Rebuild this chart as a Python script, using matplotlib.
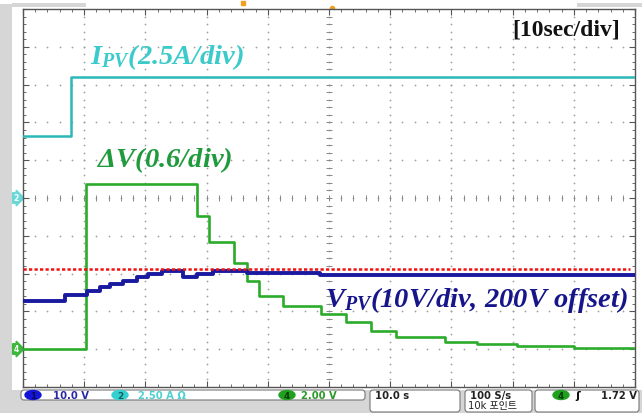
import numpy as np
import matplotlib.pyplot as plt
from matplotlib.patches import FancyBboxPatch, Rectangle, Ellipse

# ---- fonts for the bold italic serif labels ----
plt.rcParams['mathtext.fontset'] = 'custom'
plt.rcParams['mathtext.rm'] = 'Liberation Serif:bold:italic'
plt.rcParams['mathtext.it'] = 'Liberation Serif:bold:italic'
plt.rcParams['mathtext.bf'] = 'Liberation Serif:bold:italic'

# ---- data (time in s, level in divisions from bottom of screen) ----
ipv_t = [0, 6.7, 7.8, 100]
ipv_v = [6.64, 6.64, 8.20, 8.20]

dv_t = [0, 10.3, 28.4, 30.4, 34.5, 36.6, 38.6, 42.5, 48.7, 52.8, 56.9, 61.0, 68.9, 74.2, 80.7, 90.0, 100]
dv_v = [1.00, 5.37, 4.52, 3.84, 3.28, 2.80, 2.41, 2.14, 1.93, 1.72, 1.48, 1.33, 1.19, 1.14, 1.08, 1.03, 1.03]

vpv_t = [0, 6.9, 10.5, 12.6, 14.2, 16.3, 18.6, 20.4, 22.7, 26.1, 28.4, 31.0, 36.6, 48.5, 100]
vpv_v = [2.28, 2.43, 2.54, 2.64, 2.72, 2.80, 2.91, 2.99, 3.07, 2.91, 2.99, 3.07, 3.02, 2.96, 2.96]

ref_t = [0, 99.2]
ref_v = [3.12, 3.12]

c_cyan = '#2bb8b8'
c_cyan_txt = '#3ccaca'
c_green = '#2aac2a'
c_green_txt = '#1f9a3c'
c_blue = '#1a1aa0'
c_blue_txt = '#16168a'
c_red = '#ee1111'

W, H = 642, 414
fig = plt.figure(figsize=(W / 100, H / 100), dpi=100, facecolor='white')

# background layer in pixel coordinates (scope frame / status bar)
bg = fig.add_axes([0, 0, 1, 1], zorder=0)
bg.set_xlim(0, W)
bg.set_ylim(H, 0)
bg.axis('off')
gray = '#d6d6d6'
bg.add_patch(Rectangle((0, 389), W, H - 389, color=gray, lw=0))
bg.add_patch(Rectangle((0, 5), 12, H, color=gray, lw=0))
bg.add_patch(Rectangle((12, 4), 74, 4, color=gray, lw=0))
bg.add_patch(Rectangle((577, 4), 65, 4, color=gray, lw=0))
bg.add_patch(Rectangle((12, 389), 630, 2, color='white', lw=0))


def box(x0, y0, x1, y1):
    bg.add_patch(FancyBboxPatch((x0, y0), x1 - x0, y1 - y0,
                                boxstyle='round,pad=0,rounding_size=3',
                                fc='white', ec='#777777', lw=0.8))


box(21, 391, 365, 401)
box(370, 391, 460, 413)
box(465, 391, 532, 413)
box(535, 391, 639, 413)

ff = ['DejaVu Sans', 'Noto Sans CJK KR']
fs = 7.2


def badge(x, y, s, col, tcol):
    bg.add_patch(Ellipse((x, y), 16, 9, fc=col, ec=col))
    bg.text(x, y + 0.3, s, fontsize=6.3, family=ff, color=tcol, ha='center', va='center',
            weight='bold')


badge(33, 396, '1', '#1414d8', '#0a0a50')
bg.text(53, 396, '10.0 V', fontsize=fs, family=ff, color='#2a2aa8', va='center', weight='bold')
badge(120, 396, '2', '#33d0d0', '#1a5a5a')
bg.text(138, 396, '2.50 A \u03a9', fontsize=fs, family=ff, color='#4cd0d0', va='center', weight='bold')
badge(287, 396, '4', '#1fa01f', '#0a3a0a')
bg.text(301, 396, '2.00 V', fontsize=fs, family=ff, color='#2a9a2a', va='center', weight='bold')
bg.text(375, 396, '10.0 s', fontsize=fs, family=ff, color='#222222', va='center', weight='bold')
bg.text(470, 396, '100 S/s', fontsize=fs, family=ff, color='#222222', va='center', weight='bold')
bg.text(468, 406.5, '10k 포인트', fontsize=fs, family=ff, color='#222222', va='center')
badge(561, 396, '4', '#1fa01f', '#0a3a0a')
bg.text(578, 396, '\u0283', fontsize=fs + 1, family=ff, color='#111111', va='center', ha='center',
        weight='bold')
bg.text(637, 396, '1.72 V', fontsize=fs, family=ff, color='#222222', va='center', ha='right',
        weight='bold')

# channel markers on the left edge
bg.text(16, 199, '2', fontsize=5.5, family=ff, color='white', ha='center', va='center', weight='bold',
        bbox=dict(boxstyle='rarrow,pad=0.1', fc='#6ad8d8', ec='#6ad8d8'))
bg.text(16, 350, '4', fontsize=5.5, family=ff, color='white', ha='center', va='center', weight='bold',
        bbox=dict(boxstyle='rarrow,pad=0.1', fc='#3cb83c', ec='#3cb83c'))
bg.plot([243], [4], marker='s', ms=3, color='#f0a020')
bg.plot([332], [9], marker='o', ms=3, color='#f0a020')

# ---- scope screen ----
ax = fig.add_axes([23 / W, 26 / H, 612 / W, 378 / H], zorder=1)
ax.set_xlim(0, 100)
ax.set_ylim(0, 10)
ax.set_facecolor('white')
for s in ax.spines.values():
    s.set_color('#555555')
    s.set_linewidth(1.0)
ax.set_xticks(np.arange(0, 101, 10))
ax.set_yticks(np.arange(0, 11, 1))
ax.set_xticks(np.arange(0, 101, 2), minor=True)
ax.set_yticks(np.arange(0, 10.01, 0.2), minor=True)
ax.tick_params(which='both', direction='in', top=True, right=True,
               labelbottom=False, labelleft=False, color='#555555')
ax.tick_params(which='major', length=4)
ax.tick_params(which='minor', length=2.5)

# dotted graticule
gx, gy = [], []
for k in range(1, 10):
    for j in np.arange(0, 10.01, 0.2):
        gx.append(k * 10)
        gy.append(j)
    for i in np.arange(0, 100.01, 2):
        gx.append(i)
        gy.append(k)
ax.scatter(gx, gy, s=1.6, color='#a0a0a0', lw=0, zorder=1)
# centre cross ticks
cy = np.arange(0, 10.01, 0.2)
cx = np.arange(0, 100.01, 2)
ax.plot([50] * len(cy), cy, ls='none', marker='_', ms=5, mew=0.7, color='#888888', zorder=1)
ax.plot(cx, [5] * len(cx), ls='none', marker='|', ms=5, mew=0.7, color='#888888', zorder=1)

# traces
ax.step(ipv_t, ipv_v, where='post', color=c_cyan, lw=1.8, zorder=3)
ax.step(dv_t, dv_v, where='post', color=c_green, lw=1.9, zorder=3)
ax.step(vpv_t, vpv_v, where='post', color=c_blue, lw=2.8, zorder=4)
ax.plot(ref_t, ref_v, color=c_red, lw=1.8, ls=(0, (1.3, 0.9)), zorder=5)

# labels
ax.text(10.9, 8.76, r'$I_{PV}(2.5A/div)$', color=c_cyan_txt, fontsize=20.5, va='center', zorder=6)
ax.text(12.1, 6.03, r'$\Delta V(0.6/div)$', color=c_green_txt, fontsize=20.5, va='center', zorder=6)
ax.text(49.3, 2.33, r'$V_{PV}(10V/div{,}\ 200V\ offset)$', color=c_blue_txt, fontsize=20.5,
        va='center', zorder=6)
ax.text(97.5, 9.47, '[10sec/div]', color='#111111', fontsize=17, family='Liberation Serif',
        weight='bold', ha='right', va='center', zorder=6)

fig.savefig('out.png', dpi=100, facecolor='white')
